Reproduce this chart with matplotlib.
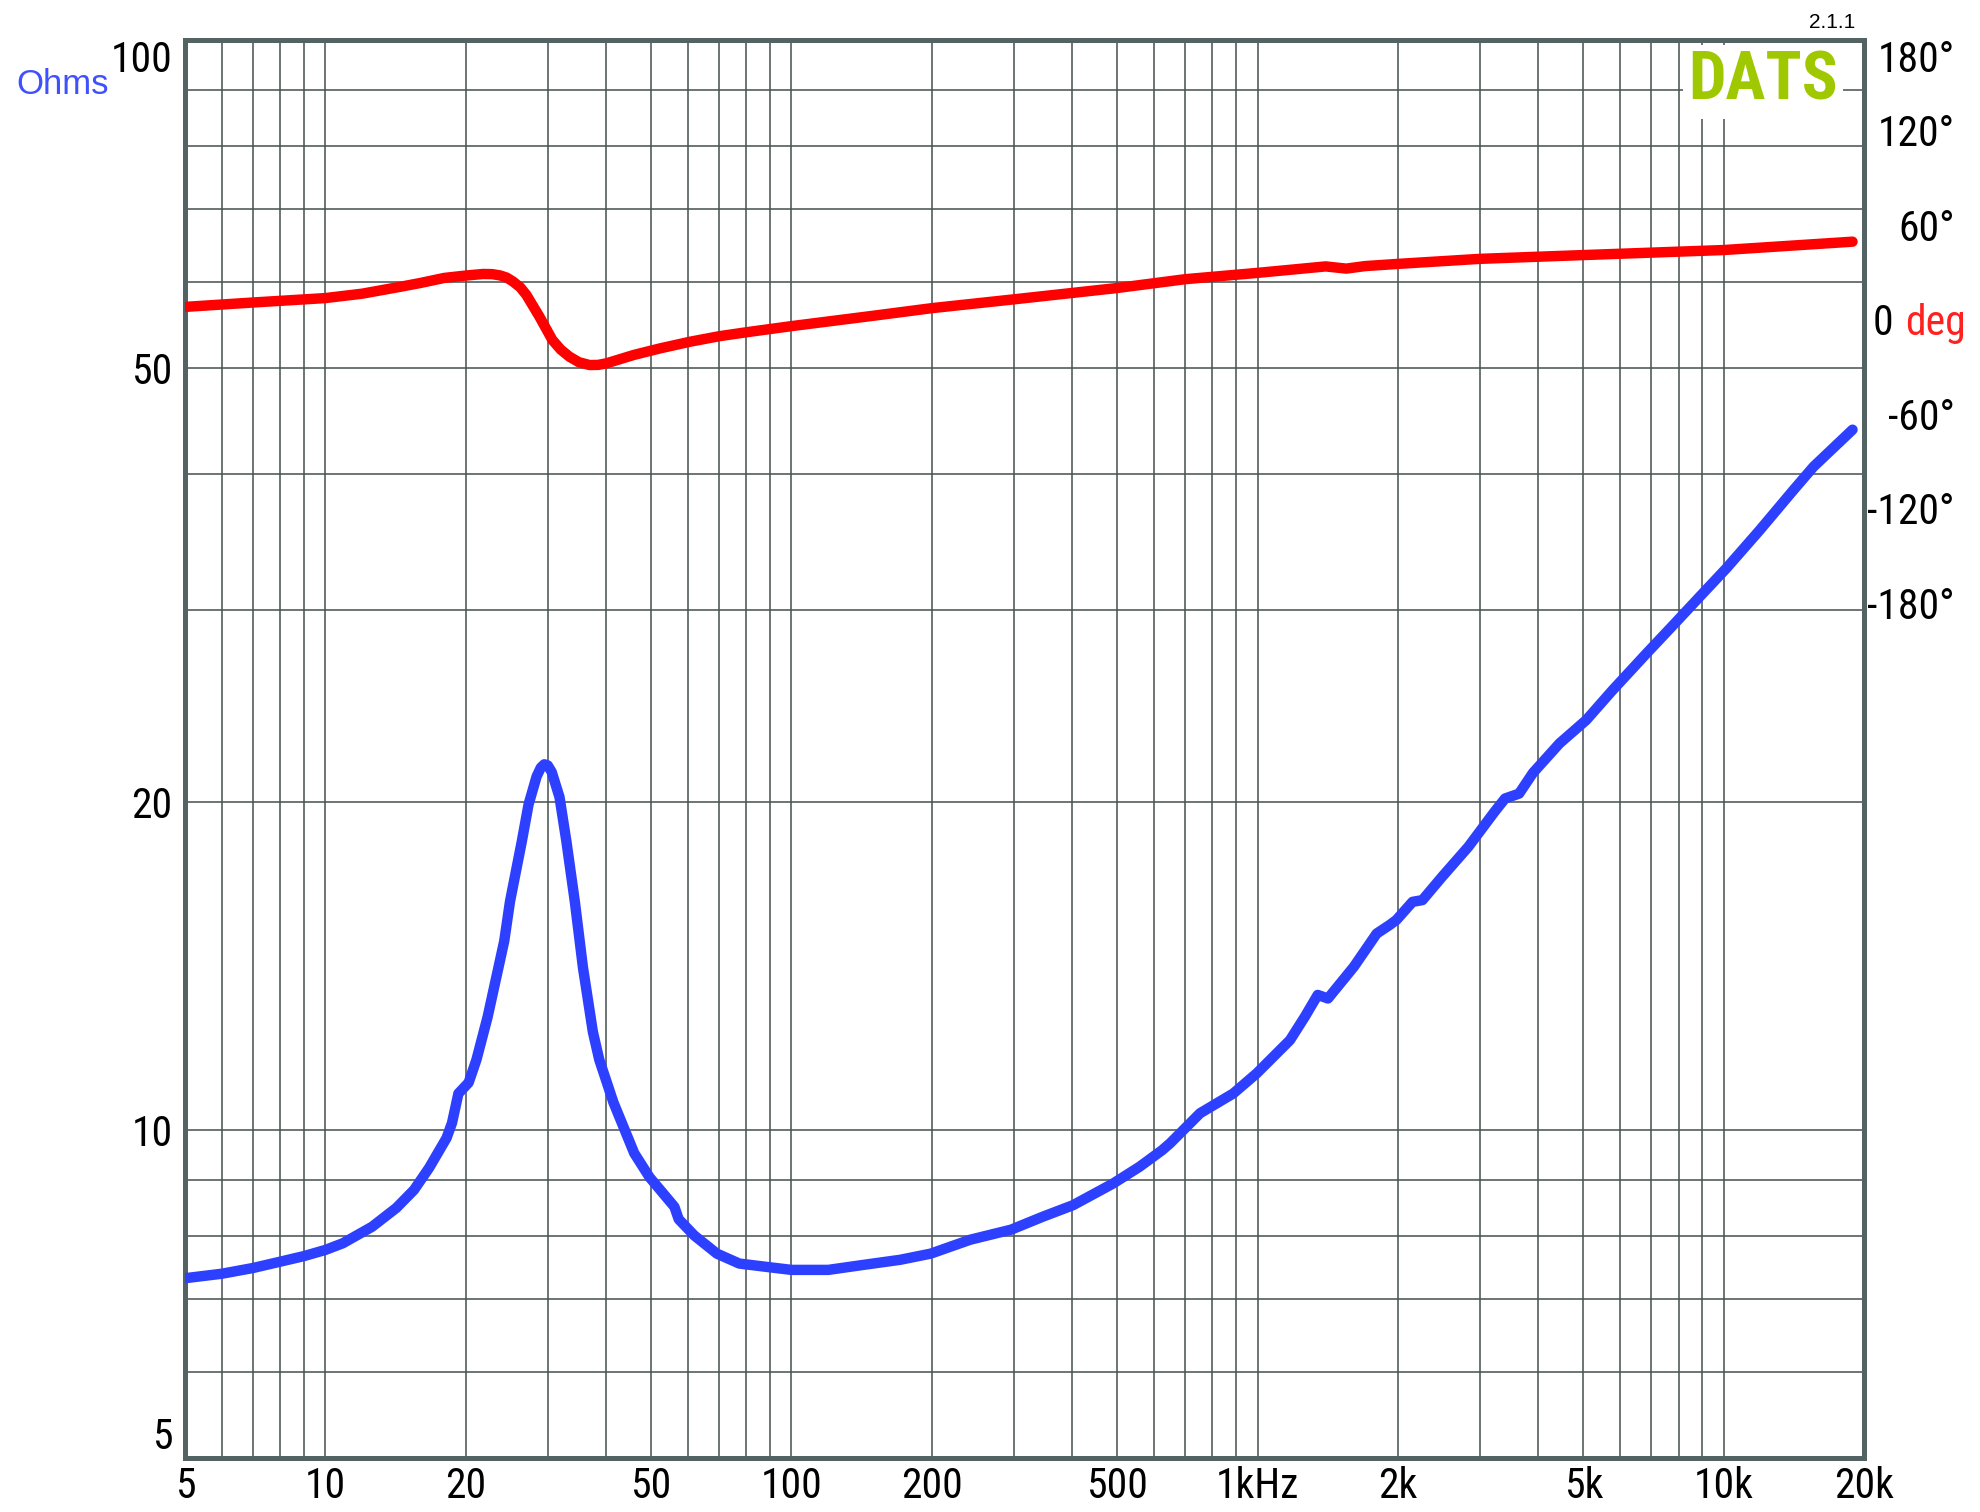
import matplotlib
matplotlib.use("Agg")
import matplotlib.pyplot as plt
from matplotlib import font_manager as fm
from matplotlib.ticker import FixedLocator, LogLocator, NullFormatter
from matplotlib.transforms import blended_transform_factory

# impedance magnitude
freq_z = [5.0, 6.0, 7.0, 8.0, 9.0, 10.0, 10.9, 12.6, 14.2, 15.5, 16.7, 18.2, 18.7, 19.3,
          20.3, 21.1, 22.3, 24.2, 24.9, 26.4, 27.3, 28.4, 29.0, 29.5, 30.0, 30.6, 31.8, 32.9,
          34.3, 35.7, 37.5, 38.7, 41.5, 46.0, 49.6, 56.1, 57.3, 61.9, 69.2, 77.3, 90.1, 100,
          120, 143, 171, 199, 242, 296, 345, 402, 490, 558, 624, 649, 753, 887, 996,
          1174, 1263, 1346, 1416, 1610, 1801, 1921, 1985, 2150, 2258, 2488, 2834, 3226,
          3396, 3640, 3898, 4446, 5071, 5781, 6834, 7792, 8884, 10130, 11960, 14120,
          15590, 18900]
ohms = [7.31, 7.38, 7.47, 7.57, 7.66, 7.76, 7.87, 8.15, 8.48, 8.81, 9.23, 9.83, 10.15, 10.8,
        11.05, 11.6, 12.7, 14.9, 16.2, 18.4, 19.9, 21.1, 21.5, 21.65, 21.6, 21.3, 20.2, 18.4,
        16.2, 14.1, 12.3, 11.6, 10.6, 9.52, 9.05, 8.5, 8.28, 8.0, 7.70, 7.54, 7.48, 7.44,
        7.44, 7.52, 7.60, 7.70, 7.93, 8.10, 8.32, 8.53, 8.93, 9.25, 9.58, 9.72, 10.36, 10.8, 11.27,
        12.09, 12.7, 13.3, 13.2, 14.12, 15.14, 15.42, 15.58, 16.19, 16.25, 17.07, 18.19, 19.59,
        20.14, 20.35, 21.26, 22.63, 23.77, 25.33, 27.37, 29.05, 30.85, 32.75, 35.52, 38.65,
        40.6, 43.9]

# phase
freq_ph = [5, 7, 10, 12, 14.5, 16, 18, 20, 21.8, 22.8, 23.7, 24.5, 25.3, 26.2, 27, 28.8, 30.7,
           32, 33.4, 35, 36.9, 38.5, 40.1, 45.9, 52.3, 60.6, 70, 80, 100, 150, 200, 300, 500,
           700, 1000, 1400, 1550, 1700, 2000, 3000, 5000, 10000, 18900]
phase = [10.6, 13.4, 16.2, 19.0, 23.4, 25.8, 29.0, 30.5, 31.5, 31.4, 30.6, 29.2, 26.6, 23.0,
         18.2, 4.4, -10.4, -16.5, -21.0, -24.5, -26.3, -26.2, -25.2, -19.9, -15.7, -11.5, -8.0,
         -5.5, -1.6, 5.0, 9.8, 15.4, 22.6, 28.2, 32.2, 36.3, 34.9, 36.5, 37.9, 41.1, 43.5,
         46.7, 52.0]

x_ticks = [5, 10, 20, 50, 100, 200, 500, 1000, 2000, 5000, 10000, 20000]
x_labels = ["5", "10", "20", "50", "100", "200", "500", "1kHz", "2k", "5k", "10k", "20k"]
y_ticks = [5, 10, 20, 50, 100]
y_labels = ["5", "10", "20", "50", "100"]
ph_ticks = [180, 120, 60, -60, -120, -180]
ph_labels = ["180°", "120°", "60°", "-60°", "-120°", "-180°"]

# condensed face if one is installed, else plain Liberation Sans
names = {f.name for f in fm.fontManager.ttflist}
narrow = "Liberation Sans"
for cand in ["Liberation Sans Narrow", "Arial Narrow", "Roboto Condensed",
             "Nimbus Sans Narrow", "Open Sans Condensed"]:
    if cand in names:
        narrow = cand
        break
fs = 30 if narrow != "Liberation Sans" else 28

spine_col = "#536262"
grid_col = "#4b5555"

fig = plt.figure(figsize=(19.8, 15.12), dpi=100)
ax = fig.add_axes([0.09343, 0.03571, 0.84798, 0.93783])
ax.set_xscale("log")
ax.set_yscale("log")
ax.set_xlim(5, 20000)
ax.set_ylim(5, 100)

ax.xaxis.set_major_locator(FixedLocator(x_ticks))
ax.set_xticklabels(x_labels)
ax.yaxis.set_major_locator(FixedLocator(y_ticks))
ax.set_yticklabels(y_labels)
ax.xaxis.set_minor_locator(LogLocator(base=10, subs=range(2, 10), numticks=50))
ax.yaxis.set_minor_locator(LogLocator(base=10, subs=range(2, 10), numticks=50))
ax.xaxis.set_minor_formatter(NullFormatter())
ax.yaxis.set_minor_formatter(NullFormatter())
ax.tick_params(which="both", length=0)
ax.tick_params(axis="x", pad=6)
ax.tick_params(axis="y", pad=9)
for lab in ax.get_xticklabels() + ax.get_yticklabels():
    lab.set_fontfamily(narrow)
    lab.set_fontsize(fs)
ticks = ax.yaxis.get_major_ticks()
ticks[0].label1.set_va("bottom")
ticks[-1].label1.set_va("top")

ax.grid(True, which="both", color=grid_col, linewidth=1.15)
ax.set_axisbelow(True)
for s in ax.spines.values():
    s.set_color(spine_col)
    s.set_linewidth(3.6)

ax.plot(freq_z, ohms, color="#2e40ff", linewidth=7.5, solid_capstyle="round",
        solid_joinstyle="round", zorder=3)

ax2 = ax.twinx()
ax2.set_ylim(-720, 180)
ax2.set_yticks([])
for s in ax2.spines.values():
    s.set_visible(False)
ax2.plot(freq_ph, phase, color="#ff0000", linewidth=7.5, solid_capstyle="round",
         solid_joinstyle="round", zorder=3)

tr = blended_transform_factory(ax2.transAxes, ax2.transData)
for v, t in zip(ph_ticks, ph_labels):
    ax2.text(1.0542, v, t, transform=tr, ha="right", va="top" if v == 180 else "center",
             fontsize=fs, family=narrow, clip_on=False)
ax2.text(1.0054, 0, "0", transform=tr, ha="left", va="center", fontsize=fs,
         family=narrow, clip_on=False)
ax2.text(1.0244, 0, "deg", transform=tr, ha="left", va="center", fontsize=fs,
         family=narrow, color="#ff2020", clip_on=False)

ax2.text(0.9845, 0.9577, "DATS", transform=ax2.transAxes, ha="right", va="baseline",
         fontsize=48, fontweight="bold", family=narrow, color="#a0c800", zorder=5,
         bbox=dict(facecolor="white", edgecolor="none", pad=4))

fig.text(16 / 1980, 1 - 84 / 1512, "Ohms", ha="left", va="center", fontsize=25,
         family="Liberation Sans", color="#3f51ff")
fig.text(1855 / 1980, 1 - 32 / 1512, "2.1.1", ha="right", va="bottom", fontsize=15,
         family="Liberation Sans", color="black")

fig.savefig("out.png", dpi=100)
